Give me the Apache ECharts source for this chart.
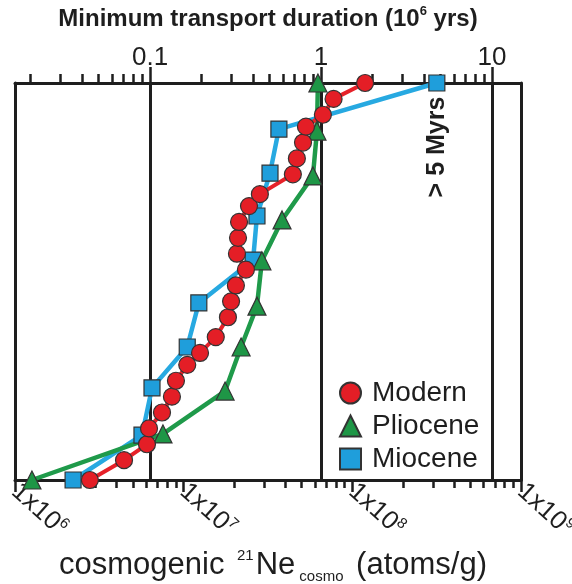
<!DOCTYPE html>
<html><head><meta charset="utf-8">
<script src="https://cdn.jsdelivr.net/npm/echarts@6/dist/echarts.min.js"></script>
<style>html,body{margin:0;padding:0;background:#fff}#c{width:572px;height:584px}</style>
</head><body><div id="c"></div>
<script>
// Cosmogenic 21Ne concentrations (atoms/g), ascending, with cumulative fraction
const modernN = [2.78e6, 4.43e6, 6.06e6, 6.23e6, 7.44e6, 8.52e6, 9.00e6, 1.05e7, 1.25e7, 1.55e7, 1.83e7, 1.91e7, 2.04e7, 2.34e7, 2.07e7, 2.10e7, 2.13e7, 2.44e7, 2.83e7, 4.44e7, 4.69e7, 5.10e7, 5.31e7, 6.69e7, 7.74e7, 1.19e8];
const modernF = [0, 0.05, 0.09, 0.13, 0.17, 0.21, 0.25, 0.29, 0.32, 0.36, 0.41, 0.45, 0.49, 0.53, 0.57, 0.61, 0.65, 0.69, 0.72, 0.77, 0.81, 0.85, 0.89, 0.92, 0.96, 1.0];
const plioceneN = [1.26e6, 7.54e6, 1.76e7, 2.19e7, 2.72e7, 2.91e7, 3.83e7, 5.84e7, 6.17e7, 6.25e7];
const plioceneF = [0, 0.116, 0.224, 0.335, 0.438, 0.552, 0.655, 0.766, 0.879, 1.0];
const mioceneN = [2.21e6, 5.66e6, 6.49e6, 1.05e7, 1.23e7, 2.58e7, 2.72e7, 3.25e7, 3.67e7, 3.17e8];
const mioceneF = [0, 0.113, 0.232, 0.335, 0.446, 0.554, 0.665, 0.773, 0.884, 1.0];

const seriesNames = ['Modern', 'Pliocene', 'Miocene'];
const bottomRange = [1e6, 1e9];
const topRange = [0.0162, 14.8];       // minimum transport duration (10^6 yrs)
const topTicks = [0.1, 1, 10];
const noteText = '> 5 Myrs';

const INK = '#1e1e1e';
const FONT = 'Liberation Sans, Arial, sans-serif';
const pairs = (xs, ys) => xs.map((x, i) => [x, ys[i]]);

const chart = echarts.init(document.getElementById('c'), null, {renderer: 'canvas'});
chart.setOption({
  animation: false,
  backgroundColor: '#fff',
  textStyle: {fontFamily: FONT, color: INK},
  grid: {left: 15, right: 51, top: 83, bottom: 104, containLabel: false, outerBoundsMode: 'none'},
  xAxis: [
    {
      type: 'log', logBase: 10, min: bottomRange[0], max: bottomRange[1], position: 'bottom',
      axisLine: {show: true, onZero: false, lineStyle: {color: INK, width: 3}},
      axisTick: {show: true, inside: false, length: 12, lineStyle: {color: INK, width: 2.5}},
      minorTick: {show: true, splitNumber: 9, length: 8, lineStyle: {color: INK, width: 2.5}},
      splitLine: {show: false}, minorSplitLine: {show: false},
      axisLabel: {
        rotate: -42, margin: 8, hideOverlap: false,
        formatter: v => '{b|1x10}{s|' + Math.round(Math.log10(v)) + '}',
        rich: {
          b: {fontSize: 26, fontFamily: FONT, color: INK, lineHeight: 28},
          s: {fontSize: 15, fontFamily: FONT, color: INK, verticalAlign: 'top', lineHeight: 16}
        }
      },
      name: '{t|cosmogenic }{sup|21}{t|Ne}{sub|cosmo}{t| (atoms/g)}',
      nameLocation: 'middle', nameGap: 63,
      nameTextStyle: {
        padding: [0, 0, 0, 10],
        rich: {
          t: {fontSize: 31, fontFamily: FONT, color: INK, lineHeight: 36},
          sup: {fontSize: 15, fontFamily: FONT, color: INK, verticalAlign: 'top', lineHeight: 24, padding: [0, 2, 0, 4]},
          sub: {fontSize: 15, fontFamily: FONT, color: INK, verticalAlign: 'bottom', lineHeight: 18, padding: [0, 4, 0, 4]}
        }
      }
    },
    {
      type: 'log', logBase: 10, min: topRange[0], max: topRange[1], position: 'top',
      axisLine: {show: true, onZero: false, lineStyle: {color: INK, width: 3}},
      axisTick: {show: true, inside: false, length: 16, customValues: topTicks, lineStyle: {color: INK, width: 2.5}},
      minorTick: {show: true, splitNumber: 9, length: 9, lineStyle: {color: INK, width: 2.5}},
      splitLine: {show: true, lineStyle: {color: INK, width: 3}},
      minorSplitLine: {show: false},
      axisLabel: {customValues: topTicks, margin: 12, fontSize: 26, fontFamily: FONT, color: INK,
        formatter: v => String(v)},
      name: '{t|Minimum transport duration (10}{sup|6}{t| yrs)}',
      nameLocation: 'middle', nameGap: 50,
      nameTextStyle: {
        rich: {
          t: {fontSize: 24, fontWeight: 'bold', fontFamily: FONT, color: INK, lineHeight: 28},
          sup: {fontSize: 13, fontWeight: 'bold', fontFamily: FONT, color: INK, verticalAlign: 'top', lineHeight: 14}
        }
      }
    }
  ],
  yAxis: [
    {type: 'value', min: 0, max: 1, position: 'left',
      axisLine: {show: true, onZero: false, lineStyle: {color: INK, width: 3}},
      axisTick: {show: false}, axisLabel: {show: false}, splitLine: {show: false}},
    {type: 'value', min: 0, max: 1, position: 'right',
      axisLine: {show: true, onZero: false, lineStyle: {color: INK, width: 3}},
      axisTick: {show: false}, axisLabel: {show: false}, splitLine: {show: false}}
  ],
  legend: {
    orient: 'vertical', left: 334, top: 374, itemGap: 5, itemWidth: 21, itemHeight: 21,
    textStyle: {fontSize: 28, fontFamily: FONT, color: INK, padding: [0, 0, 0, 6]},
    data: [
      {name: seriesNames[0], icon: 'circle'},
      {name: seriesNames[1], icon: 'triangle'},
      {name: seriesNames[2], icon: 'rect'}
    ]
  },
  series: [
    {
      name: seriesNames[2], type: 'line', xAxisIndex: 0, yAxisIndex: 0,
      data: pairs(mioceneN, mioceneF), symbol: 'rect', symbolSize: 16,
      lineStyle: {color: '#27a9e1', width: 4.5},
      itemStyle: {color: '#1f9edb', borderColor: '#333', borderWidth: 1.2}
    },
    {
      name: seriesNames[1], type: 'line', xAxisIndex: 0, yAxisIndex: 0,
      data: pairs(plioceneN, plioceneF), symbol: 'triangle', symbolSize: 18,
      lineStyle: {color: '#1f9a4a', width: 4.5},
      itemStyle: {color: '#1e9646', borderColor: '#333', borderWidth: 1.2}
    },
    {
      name: seriesNames[0], type: 'line', xAxisIndex: 0, yAxisIndex: 0,
      data: pairs(modernN, modernF), symbol: 'circle', symbolSize: 17,
      lineStyle: {color: '#e62129', width: 4},
      itemStyle: {color: '#e41e26', borderColor: '#333', borderWidth: 1.2}
    }
  ],
  graphic: [
    {type: 'text', x: 437, y: 147, rotation: Math.PI / 2,
      style: {text: noteText, fontSize: 25, fontWeight: 'bold', fontFamily: FONT, fill: INK,
        align: 'center', verticalAlign: 'middle'}}
  ]
});
</script></body></html>
